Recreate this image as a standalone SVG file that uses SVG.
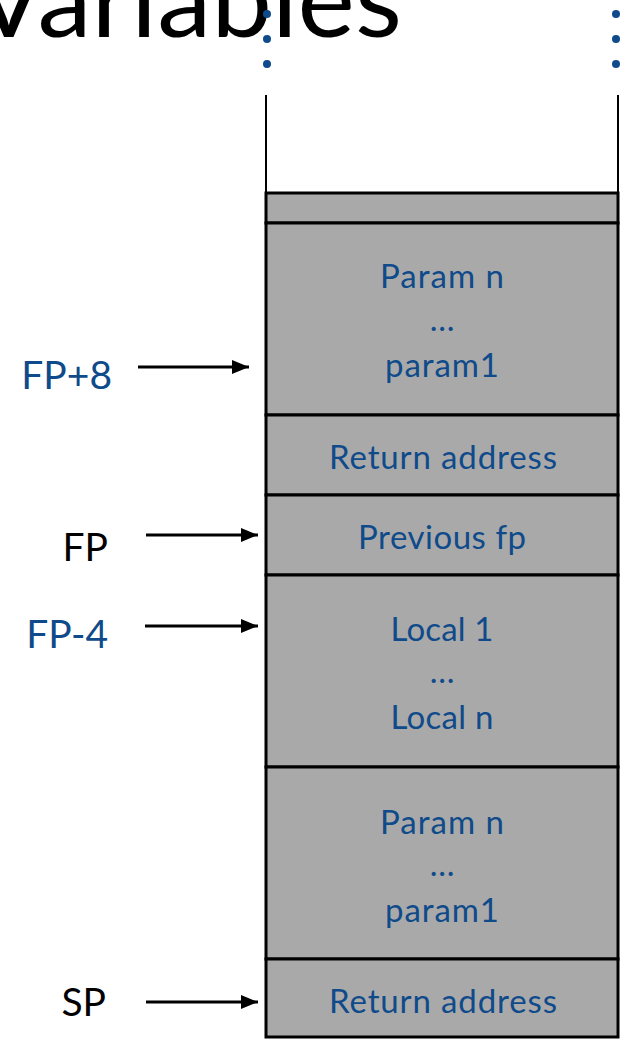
<svg xmlns="http://www.w3.org/2000/svg" width="625" height="1039" viewBox="0 0 625 1039">
<style>
.cell{fill:#a9a9a9;stroke:#000;stroke-width:3}
.t{font-family:Lato,"Open Sans",sans-serif;font-size:33px;fill:#0f4a8a;text-anchor:middle}
.lbl{font-family:Lato,"Open Sans",sans-serif;font-size:39px;text-anchor:end}
.blue{fill:#0f4a8a}
.blk{fill:#000}
.arr{stroke:#000;stroke-width:3;fill:none;marker-end:url(#ah)}
.dot{fill:#0f4a8a}
</style>
<defs>
<marker id="ah" markerUnits="userSpaceOnUse" markerWidth="17" markerHeight="14" refX="17" refY="7" orient="auto">
<path d="M0,0 L17,7 L0,14 Z" fill="#000"/>
</marker>
</defs>
<rect width="625" height="1039" fill="#fff"/>
<text id="title" x="-28" y="37" font-family="Lato,'Open Sans',sans-serif" font-size="105" textLength="430" lengthAdjust="spacingAndGlyphs" fill="#000">Variables</text>
<g id="dots">
<circle class="dot" cx="267" cy="14" r="4"/>
<circle class="dot" cx="267" cy="39" r="4"/>
<circle class="dot" cx="267" cy="64" r="4"/>
<circle class="dot" cx="616" cy="14" r="4"/>
<circle class="dot" cx="616" cy="39" r="4"/>
<circle class="dot" cx="616" cy="64" r="4"/>
</g>
<g id="stack-walls" stroke="#000" stroke-width="2">
<line x1="266" y1="95" x2="266" y2="193"/>
<line x1="618" y1="95" x2="618" y2="193"/>
</g>
<g id="cell-top"><rect class="cell" x="266" y="193" width="352" height="30"/></g>
<g id="cell-params1"><rect class="cell" x="266" y="223" width="352" height="192"/>
<text class="t" x="442" y="288" textLength="124">Param n</text>
<text class="t" x="442" y="331">…</text>
<text class="t" x="442" y="377" textLength="114">param1</text></g>
<g id="cell-ret1"><rect class="cell" x="266" y="415" width="352" height="80"/>
<text class="t" x="443" y="469" textLength="228">Return address</text></g>
<g id="cell-prevfp"><rect class="cell" x="266" y="495" width="352" height="80"/>
<text class="t" x="442" y="549" textLength="168">Previous fp</text></g>
<g id="cell-locals"><rect class="cell" x="266" y="575" width="352" height="192"/>
<text class="t" x="442" y="641" textLength="103">Local 1</text>
<text class="t" x="442" y="683">…</text>
<text class="t" x="442" y="729" textLength="103">Local n</text></g>
<g id="cell-params2"><rect class="cell" x="266" y="767" width="352" height="192"/>
<text class="t" x="442" y="834" textLength="124">Param n</text>
<text class="t" x="442" y="876">…</text>
<text class="t" x="442" y="922" textLength="114">param1</text></g>
<g id="cell-ret2"><rect class="cell" x="266" y="959" width="352" height="78"/>
<text class="t" x="443" y="1013" textLength="228">Return address</text></g>
<g id="lbl-fp8"><text class="lbl blue" x="112" y="389">FP+8</text></g>
<g id="lbl-fp"><text class="lbl blk" x="108" y="561">FP</text></g>
<g id="lbl-fp4"><text class="lbl blue" x="108" y="648">FP-4</text></g>
<g id="lbl-sp"><text class="lbl blk" x="106" y="1016">SP</text></g>
<g id="connectors">
<line class="arr" x1="138" y1="367" x2="249" y2="367"/>
<line class="arr" x1="146" y1="535" x2="258" y2="535"/>
<line class="arr" x1="145" y1="626" x2="258" y2="626"/>
<line class="arr" x1="146" y1="1002" x2="258" y2="1002"/>
</g>
</svg>
